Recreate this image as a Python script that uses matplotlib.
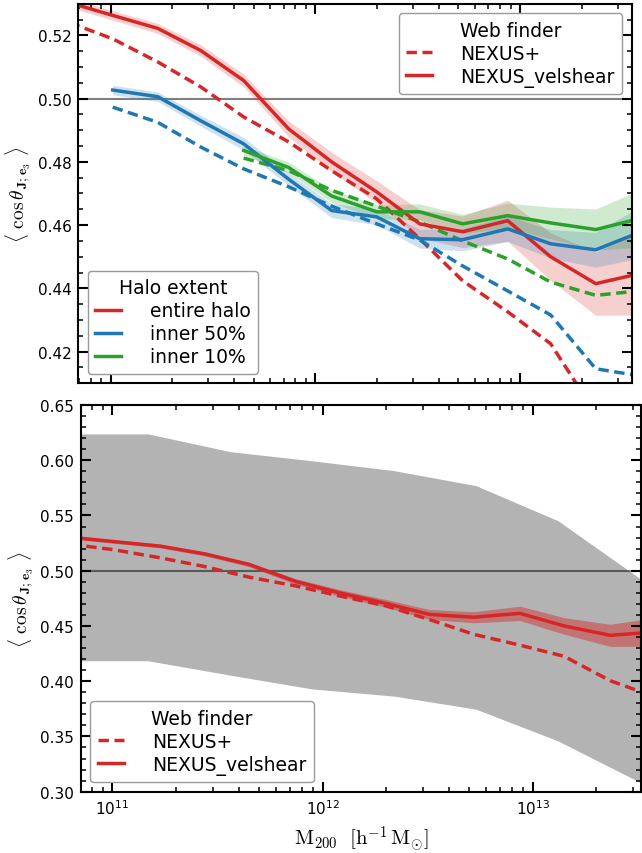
import numpy as np
import matplotlib
matplotlib.use("Agg")
import matplotlib.pyplot as plt
from matplotlib.ticker import LogLocator, MultipleLocator, FormatStrFormatter, NullFormatter

plt.rcParams['mathtext.fontset'] = 'cm'
plt.rcParams['font.family'] = ['DejaVu Sans']

# halo mass bins, log10(M200 / h^-1 Msun)
logm = np.array([10.80, 11.01, 11.23, 11.44, 11.65, 11.87, 12.08,
                 12.30, 12.51, 12.72, 12.94, 13.15, 13.37, 13.58])

# entire halo
full_vel = np.array([0.5303, 0.5263, 0.5222, 0.5152, 0.5057, 0.4904, 0.4800,
                     0.4705, 0.4604, 0.4579, 0.4614, 0.4500, 0.4415, 0.4446])
full_vel_err = np.array([0.0015, 0.0015, 0.0016, 0.0018, 0.0020, 0.0025, 0.0030,
                         0.0035, 0.0045, 0.0050, 0.0065, 0.0075, 0.0100, 0.0130])
full_nex = np.array([0.5240, 0.5189, 0.5116, 0.5037, 0.4942, 0.4863, 0.4772,
                     0.4683, 0.4557, 0.4424, 0.4326, 0.4225, 0.4004, 0.3860])

# inner 50% (from bin 1 on)
in50_vel = np.array([0.5027, 0.5006, 0.4930, 0.4857, 0.4745, 0.4646, 0.4626,
                     0.4557, 0.4554, 0.4588, 0.4541, 0.4522, 0.4576])
in50_vel_err = np.array([0.0015, 0.0015, 0.0017, 0.0020, 0.0020, 0.0022, 0.0025,
                         0.0030, 0.0035, 0.0040, 0.0045, 0.0055, 0.0080])
in50_nex = np.array([0.4973, 0.4925, 0.4847, 0.4778, 0.4721, 0.4660, 0.4604,
                     0.4553, 0.4471, 0.4392, 0.4316, 0.4146, 0.4124])

# inner 10% (from bin 4 on)
in10_vel = np.array([0.4836, 0.4782, 0.4692, 0.4642, 0.4642, 0.4604, 0.4630,
                     0.4607, 0.4586, 0.4620])
in10_vel_err = np.array([0.0015, 0.0017, 0.0020, 0.0022, 0.0025, 0.0030, 0.0040,
                         0.0050, 0.0065, 0.0090])
in10_nex = np.array([0.4812, 0.4772, 0.4710, 0.4660, 0.4610, 0.4550, 0.4493,
                     0.4420, 0.4378, 0.4392])

# scatter range, coarser bins
logm_sc = np.array([10.78, 11.17, 11.56, 11.95, 12.34, 12.73, 13.12, 13.51])
sc_hi = np.array([0.6238, 0.6238, 0.6078, 0.5995, 0.5906, 0.5770, 0.5453, 0.4930])
sc_lo = np.array([0.4185, 0.4185, 0.4055, 0.3930, 0.3865, 0.3747, 0.3460, 0.3086])

red, blue, green = '#d62728', '#1f77b4', '#2ca02c'
dash = (0, (3, 1.6))
lw = 2.5

m = 10**logm
m50 = m[1:]
m10 = m[4:]

fig = plt.figure(figsize=(6.42, 8.54), dpi=100)
ax1 = fig.add_axes([0.1220, 0.5500, 0.8620, 0.4445])
ax2 = fig.add_axes([0.1257, 0.0718, 0.8735, 0.4528])

# top: halo extent comparison
ax1.axhline(0.5, color='k', alpha=0.5, lw=1.5, zorder=1)
ax1.fill_between(m, full_vel - full_vel_err, full_vel + full_vel_err, color=red, alpha=0.22, lw=0)
ax1.fill_between(m50, in50_vel - in50_vel_err, in50_vel + in50_vel_err, color=blue, alpha=0.22, lw=0)
ax1.fill_between(m10, in10_vel - in10_vel_err, in10_vel + in10_vel_err, color=green, alpha=0.22, lw=0)
ax1.plot(m, full_nex, color=red, ls=dash, lw=lw)
ax1.plot(m50, in50_nex, color=blue, ls=dash, lw=lw)
ax1.plot(m10, in10_nex, color=green, ls=dash, lw=lw)
l_full, = ax1.plot(m, full_vel, color=red, lw=lw)
l_50, = ax1.plot(m50, in50_vel, color=blue, lw=lw)
l_10, = ax1.plot(m10, in10_vel, color=green, lw=lw)

ax1.set_xlim(10**10.842, 10**13.546)
ax1.set_ylim(0.41, 0.53)
ax1.yaxis.set_major_locator(MultipleLocator(0.02))
ax1.yaxis.set_minor_locator(MultipleLocator(0.005))

# bottom: entire halo against the scatter range
ax2.fill_between(10**logm_sc, sc_lo, sc_hi, color='0.7', lw=0, zorder=0)
ax2.axhline(0.5, color='k', alpha=0.5, lw=1.5, zorder=1)
ax2.fill_between(m, full_vel - full_vel_err, full_vel + full_vel_err, color=red, alpha=0.45, lw=0)
ax2.plot(m, full_nex, color=red, ls=dash, lw=lw)
ax2.plot(m, full_vel, color=red, lw=lw)
ax2.set_xlim(10**10.849, 10**13.518)
ax2.set_ylim(0.30, 0.65)
ax2.yaxis.set_major_locator(MultipleLocator(0.05))
ax2.yaxis.set_minor_locator(MultipleLocator(0.01))

ylab = r'$\langle\ \cos\theta_{\,\mathbf{J};\mathbf{e}_3}\ \rangle$'
for ax in (ax1, ax2):
    ax.set_xscale('log')
    ax.xaxis.set_major_locator(LogLocator(base=10))
    ax.xaxis.set_minor_locator(LogLocator(base=10, subs=np.arange(2, 10)))
    ax.xaxis.set_minor_formatter(NullFormatter())
    ax.yaxis.set_major_formatter(FormatStrFormatter('%.2f'))
    ax.tick_params(which='both', direction='in', top=True, right=True, labelsize=11, pad=5)
    ax.tick_params(which='major', length=7.2, width=1.5)
    ax.tick_params(which='minor', length=3.6, width=1.1)
    for s in ax.spines.values():
        s.set_linewidth(1.5)
    ax.set_ylabel(ylab, fontsize=14, labelpad=3)
ax1.tick_params(labelbottom=False)
ax2.set_xlabel(r'$\mathrm{M}_{200}\ \ [\mathrm{h}^{-1}\,\mathrm{M}_{\odot}]$', fontsize=15)

# legends
leg_kw = dict(fontsize=13.5, title_fontsize=13.5, handlelength=1.4, handletextpad=1.5,
              labelspacing=0.22, borderpad=0.4, edgecolor='0.6', framealpha=1)
nex_h = plt.Line2D([], [], color=red, ls=dash, lw=lw)
vel_h = plt.Line2D([], [], color=red, lw=lw)
leg1 = ax1.legend([nex_h, vel_h], ['NEXUS+', 'NEXUS_velshear'], title='Web finder',
                  loc='upper right', **leg_kw)
ax1.add_artist(leg1)
ax1.legend([l_full, l_50, l_10], ['entire halo', 'inner 50%', 'inner 10%'],
           title='Halo extent', loc='lower left', **leg_kw)
ax2.legend([nex_h, vel_h], ['NEXUS+', 'NEXUS_velshear'], title='Web finder',
           loc='lower left', **leg_kw)

fig.savefig('out.png', dpi=100)
